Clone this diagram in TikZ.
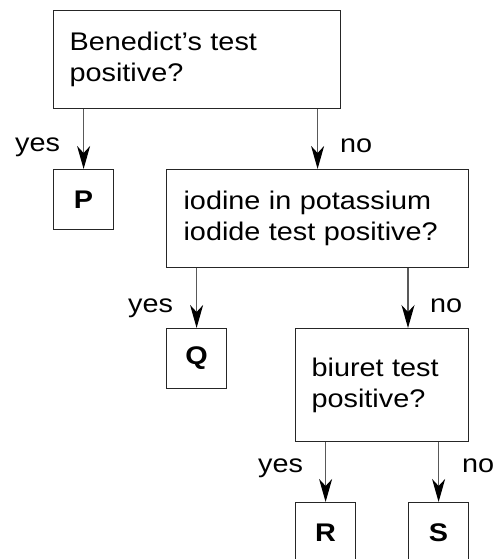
\documentclass[tikz,border=0pt]{standalone}
\usepackage{fontspec}
\setmainfont{Liberation Sans}[FakeStretch=1.13]
\usetikzlibrary{arrows.meta}
\tikzset{
  qbox/.style={draw=black!85, line width=1.2pt, anchor=north west, align=left,
    inner xsep=16pt, inner ysep=0pt, font=\fontsize{25.5}{31}\selectfont},
  abox/.style={draw=black!85, line width=1.2pt, anchor=north west,
    minimum width=60pt, minimum height=60pt, inner sep=0pt,
    font=\fontsize{25.5}{31}\selectfont\bfseries},
  lbl/.style={anchor=base west, inner sep=0pt, font=\fontsize{25.5}{31}\selectfont},
  arr/.style={draw=black!65, line width=1.2pt,
    -{Stealth[length=23pt, width=13pt, inset=7pt, color=black, fill=black]}}
}
\begin{document}
\begin{tikzpicture}[x=1pt,y=-1pt]
\path[use as bounding box, clip] (0,0) rectangle (496,559);
% question boxes
\node[qbox, text width=255pt, minimum height=98pt] (A) at (53,10) {Benedict’s test\\positive?};
\node[qbox, text width=268pt, inner xsep=17pt, minimum height=98pt] (B) at (166,169) {iodine in potassium\\iodide test positive?};
\node[qbox, text width=141pt, minimum height=113pt] (C) at (295,328) {biuret test\\positive?};
% answer boxes
\node[abox] (P) at (53,169) {P};
\node[abox] (Q) at (166,328) {Q};
\node[abox] (R) at (295,502) {R};
\node[abox] (S) at (408,502) {S};
% helper coordinate for B -> C
\coordinate (bc) at (408,300);
% connectors
\draw[arr] (A.south -| P.north) -- (P.north);
\draw[arr] (A.south -| B.north) -- (B.north);
\draw[arr] (B.south -| Q.north) -- (Q.north);
\draw[arr] (B.south -| bc) -- (C.north -| bc);
\draw[arr] (C.south -| R.north) -- (R.north);
\draw[arr] (C.south -| S.north) -- (S.north);
% labels
\node[lbl] (yes1) at (15,151) {yes};
\node[lbl] (no1) at (340,152) {no};
\node[lbl] (yes2) at (128,312) {yes};
\node[lbl] (no2) at (430,312) {no};
\node[lbl] (yes3) at (258,472) {yes};
\node[lbl] (no3) at (462,472) {no};
\end{tikzpicture}
\end{document}
